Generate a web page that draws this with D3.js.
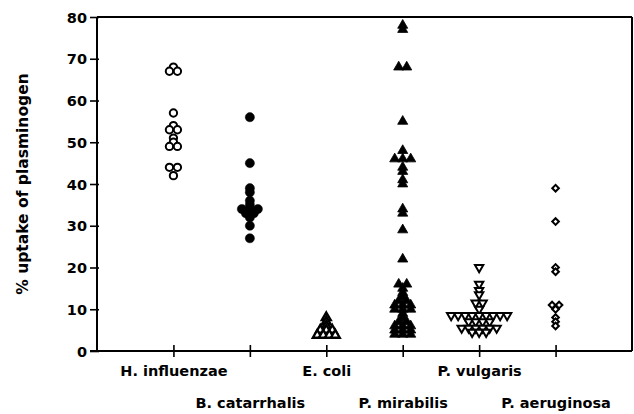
<!DOCTYPE html>
<html><head><meta charset="utf-8">
<script src="https://cdn.jsdelivr.net/npm/d3@7"></script>
<style>body{margin:0;background:#fff}svg{display:block}text{font-family:"DejaVu Sans",sans-serif;font-weight:bold;fill:#000}</style>
</head><body><svg id="c" width="634" height="414"></svg>
<script>
const categories = ["H. influenzae","B. catarrhalis","E. coli","P. mirabilis","P. vulgaris","P. aeruginosa"];
const hInfluenzae = [68, 67, 67, 57, 54, 53, 53, 51, 50, 49, 49, 44, 44, 42];
const bCatarrhalis = [56, 45, 39, 38, 36, 35, 34, 34, 34, 33, 33, 32, 30, 27];
const eColi = [8, 7, 6, 5, 5, 5, 3.8, 3.8, 3.8, 3.8];
const pMirabilis = [78, 77, 68, 68, 55, 48, 46, 46, 46, 44, 43, 41, 40, 34, 33, 29, 22,
  16, 16, 15, 14, 13, 12, 12, 11, 11, 11, 10, 10, 10, 9, 8, 7, 7, 6, 6, 6, 5, 5, 5, 4, 4, 4];
const pVulgaris = [20, 16, 14.5, 13.5, 11.5, 11.5, 10, 8.5, 8.5, 8.5, 8.5, 8.5, 8.5, 8.5, 8.5, 8.5,
  7, 7, 7, 7, 5.5, 5.5, 5.5, 5.5, 5.5, 5.5, 4.5, 4.5, 4.5];
const pAeruginosa = [39, 31, 20, 19, 11, 11, 10, 8, 7, 6];
const yTicks = [0, 10, 20, 30, 40, 50, 60, 70, 80];
const yTitle = "% uptake of plasminogen";

const seriesValues = [hInfluenzae, bCatarrhalis, eColi, pMirabilis, pVulgaris, pAeruginosa];

const svg = d3.select("#c");
const x = d3.scaleLinear().domain([0, 7]).range([97, 632]);
const y = d3.scaleLinear().domain([0, 80]).range([351, 17]);

// marker styles per category
const styles = [
  {type: d3.symbolCircle, size: 42, fill: "#fff", stroke: "#000", sw: 2, rot: 0, gap: 8},
  {type: d3.symbolCircle, size: 66, fill: "#000", stroke: "#000", sw: 0.5, rot: 0, gap: 8},
  {type: d3.symbolTriangle, size: 34, fill: "#fff", stroke: "#000", sw: 2.4, rot: 0, gap: 6},
  {type: d3.symbolTriangle, size: 44, fill: "#000", stroke: "#000", sw: 0.8, rot: 0, gap: 8},
  {type: d3.symbolTriangle, size: 30, fill: "#fff", stroke: "#000", sw: 2, rot: 180, gap: 7},
  {type: d3.symbolSquare, size: 22, fill: "#fff", stroke: "#000", sw: 2, rot: 45, gap: 7}
];

// frame: top and right lines
svg.append("line").attr("x1", 97).attr("x2", 632).attr("y1", y(80)).attr("y2", y(80)).attr("stroke", "#000").attr("stroke-width", 2);
svg.append("line").attr("x1", 632).attr("x2", 632).attr("y1", y(80)).attr("y2", y(0)).attr("stroke", "#000").attr("stroke-width", 2);

// y axis
const yAxis = svg.append("g").attr("transform", "translate(97,0)")
  .call(d3.axisLeft(y).tickValues(yTicks).tickSize(6).tickPadding(5));
yAxis.select(".domain").attr("stroke-width", 2).attr("d", `M0,${y(80)}V${y(0)}`);
yAxis.selectAll(".tick line").attr("stroke-width", 1.6).attr("x2", -7).attr("x1", 2);
yAxis.selectAll("text").style("font-size", "14.5px").attr("x", -10).attr("dy", "0.36em");

// x axis
const xAxis = svg.append("g").attr("transform", `translate(0,${y(0)})`)
  .call(d3.axisBottom(x).tickValues(d3.range(1, 7)).tickFormat(d => categories[d - 1]).tickSize(6).tickPadding(12));
xAxis.select(".domain").attr("stroke-width", 2).attr("d", `M90,0H632`);
xAxis.selectAll(".tick line").attr("stroke-width", 1.6).attr("y1", -6).attr("y2", 6);
xAxis.selectAll("text").style("font-size", "14.5px")
  .attr("y", (d, i) => i % 2 === 0 ? 15 : 47).attr("dy", "0.71em");

// y title
svg.append("text").attr("transform", `translate(28,${(y(0) + y(80)) / 2}) rotate(-90)`)
  .attr("text-anchor", "middle").style("font-size", "15.5px").text(yTitle);

// points
seriesValues.forEach((vals, ci) => {
  const st = styles[ci];
  const groups = d3.group(vals, v => v);
  const pts = [];
  groups.forEach((arr, v) => {
    const n = arr.length;
    arr.forEach((_, k) => pts.push({v, off: (k - (n - 1) / 2) * st.gap}));
  });
  const sym = d3.symbol().type(st.type).size(st.size);
  svg.append("g").selectAll("path").data(pts).join("path")
    .attr("d", sym)
    .attr("transform", d => `translate(${x(ci + 1) + d.off},${y(d.v)}) rotate(${st.rot})`)
    .attr("fill", st.fill).attr("stroke", st.stroke).attr("stroke-width", st.sw);
});
</script></body></html>
